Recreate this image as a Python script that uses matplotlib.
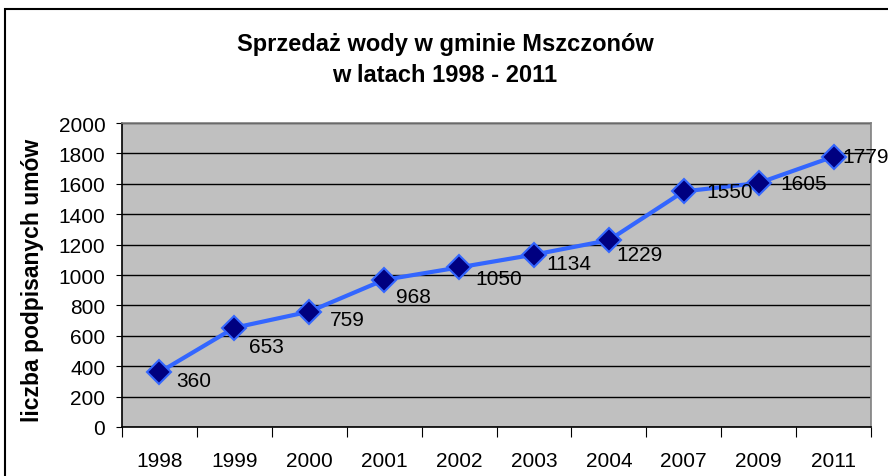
import matplotlib.pyplot as plt
from matplotlib.patches import Rectangle

# data
years = ['1998', '1999', '2000', '2001', '2002', '2003', '2004', '2007', '2009', '2011']
umowy = [360, 653, 759, 968, 1050, 1134, 1229, 1550, 1605, 1779]

# label placement (pixels right, pixels down) like in the original
label_offsets = [(17, 8), (15, 19), (21, 8), (12, 17), (16, 11),
                 (12, 9), (8, 14), (23, 0), (22, 0), (9, 0)]

plt.rcParams['font.family'] = ['Liberation Sans', 'DejaVu Sans']

fig = plt.figure(figsize=(8.88, 4.77), dpi=100)
ax = fig.add_axes([122 / 888, 49 / 477, 749 / 888, 304 / 477])
ax.set_facecolor('#C0C0C0')

x = list(range(len(years)))
ax.plot(x, umowy, color='#3366FF', lw=3, marker='D', ms=12,
        mfc='#000080', mec='#3366FF', mew=1.5, zorder=3, clip_on=False)

for xi, v, (dx, dy) in zip(x, umowy, label_offsets):
    ax.annotate(str(v), (xi, v), xytext=(dx, -dy), textcoords='offset pixels',
                ha='left', va='center', fontsize=15, zorder=4)

ax.set_xlim(-0.5, len(years) - 0.5)
ax.set_ylim(0, 2000)
ax.set_yticks(range(0, 2001, 200))
ax.yaxis.grid(True, color='black', lw=1)
ax.set_axisbelow(True)

# excel style: tick marks between categories, labels in the middle
ax.set_xticks([i - 0.5 for i in range(len(years) + 1)])
ax.set_xticklabels([])
ax.set_xticks(x, minor=True)
ax.set_xticklabels(years, minor=True)
ax.tick_params(axis='x', which='major', length=7, direction='out', color='black')
ax.tick_params(axis='x', which='minor', length=0, pad=17, labelsize=15)
ax.tick_params(axis='y', length=4, pad=8, labelsize=15)

ax.spines['left'].set_color('black')
ax.spines['bottom'].set_color('black')
ax.spines['top'].set_color('#808080')
ax.spines['right'].set_color('#808080')
for s in ax.spines.values():
    s.set_linewidth(1.2)

fig.text(445 / 888, 1 - 45 / 477, 'Sprzedaż wody w gminie Mszczonów',
         ha='center', va='center', fontsize=17, fontweight='bold')
fig.text(445 / 888, 1 - 75 / 477, 'w latach 1998 - 2011',
         ha='center', va='center', fontsize=17, fontweight='bold')
fig.text(32 / 888, 1 - 280 / 477, 'liczba podpisanych umów', rotation=90,
         ha='center', va='center', fontsize=16.5, fontweight='bold')

# outer chart frame
fig.patches.append(Rectangle((5 / 888, -0.1), 1.2, 1 - 10 / 477 + 0.1,
                             transform=fig.transFigure, fill=False,
                             edgecolor='black', lw=1.5))

fig.savefig('out.png', dpi=100)
